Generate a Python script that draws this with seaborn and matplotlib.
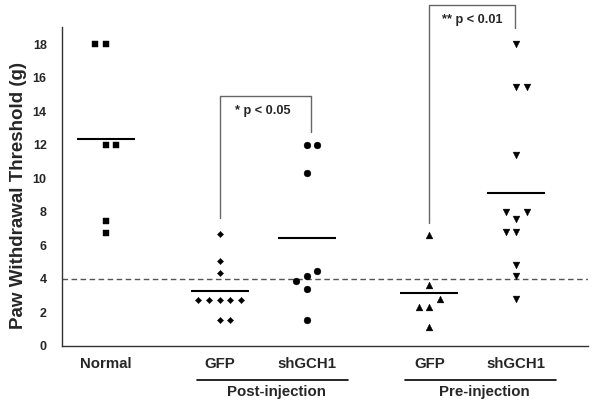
import numpy as np
import pandas as pd
import matplotlib
matplotlib.use("Agg")
import matplotlib.pyplot as plt
import seaborn as sns

# ---- data ----
tick_labels = ["Normal", "GFP", "shGCH1", "GFP", "shGCH1"]
normal_vals = [18, 18, 12, 12, 7.45, 6.75]
post_gfp_vals = [6.7, 5.1, 4.35, 2.75, 2.75, 2.75, 2.75, 2.75, 1.55, 1.55]
post_sh_vals = [12, 12, 10.3, 4.5, 4.15, 3.85, 3.4, 1.55]
pre_gfp_vals = [6.65, 3.65, 2.8, 2.3, 2.3, 1.15]
pre_sh_vals = [18, 15.45, 15.45, 11.4, 8.0, 8.0, 7.6, 6.8, 6.8, 4.85, 4.2, 2.8]
threshold = 4.02
group_names = ["Post-injection", "Pre-injection"]
p_texts = ["* p < 0.05", "** p < 0.01"]

# ---- layout (positions / side-by-side slots for tied points) ----
xpos = [0.0, 1.31, 2.31, 3.72, 4.72]
normal_slot = [-1, 0, 0, 1, 0, 0]
post_gfp_slot = [0, 0, 0, -2, -1, 0, 1, 2, 0, 1]
post_sh_slot = [0, 1, 0, 1, 0, -1, 0, 0]
pre_gfp_slot = [0, 0, 1, -1, 0, 0]
pre_sh_slot = [0, 0, 1, 0, -1, 1, 0, -1, 0, 0, 0, 0]
slot_w = 0.124

sns.set_style("white")
plt.rcParams["font.family"] = ["Liberation Sans", "DejaVu Sans"]
plt.rcParams["font.weight"] = "bold"

fig = plt.figure(figsize=(6, 4.09), dpi=100)
ax = fig.add_axes([62 / 600, 1 - 346 / 409, 526 / 600, 342 / 409])

series = [
    (normal_vals, normal_slot, "s", 22),
    (post_gfp_vals, post_gfp_slot, "D", 10),
    (post_sh_vals, post_sh_slot, "o", 24),
    (pre_gfp_vals, pre_gfp_slot, "^", 24),
    (pre_sh_vals, pre_sh_slot, "v", 24),
]

for i, (vals, slots, mk, sz) in enumerate(series):
    df = pd.DataFrame({
        "x": xpos[i] + np.array(slots) * slot_w,
        "y": vals,
    })
    sns.scatterplot(data=df, x="x", y="y", marker=mk, s=sz, color="black",
                    edgecolor="black", linewidth=0.3, ax=ax, legend=False,
                    zorder=3)
    m = np.mean(vals)
    ax.plot([xpos[i] - 0.333, xpos[i] + 0.333], [m, m], color="black",
            lw=1.5, solid_capstyle="butt", zorder=2)

ax.set_xlim(-0.502, 5.544)
ax.set_ylim(0, 20.4)

# threshold dashed line
ax.axhline(threshold, color="#555555", lw=1.0, ls=(0, (4, 2.5)), zorder=1)

# spines / ticks
for s in ["top", "right"]:
    ax.spines[s].set_visible(False)
for s in ["left", "bottom"]:
    ax.spines[s].set_color("#333333")
    ax.spines[s].set_linewidth(1.0)
ax.spines["left"].set_bounds(0, 19)

ax.set_yticks(np.arange(0, 19, 2))
ax.set_yticks(np.arange(1, 18, 2), minor=True)
ax.set_yticklabels([str(v) for v in range(0, 19, 2)])
ax.set_xticks(xpos)
ax.set_xticklabels(tick_labels)
ax.tick_params(axis="y", which="both", direction="in", length=4, width=0.9,
               color="#333333", pad=11, labelsize=9)
ax.tick_params(axis="x", which="both", direction="in", length=4, width=0.9,
               color="#333333", pad=8, labelsize=10.8)
for lab in ax.get_xticklabels() + ax.get_yticklabels():
    lab.set_fontweight("bold")

ax.set_xlabel("")
ax.set_ylabel("Paw Withdrawal Threshold (g)", fontsize=13.5,
              fontweight="bold")
ax.yaxis.set_label_coords(-0.066, 0.44)

# group underlines and labels
ul_y = -2.03
txt_y = -2.74
for (x0, x1, xc), name in zip([(1.05, 2.785, 1.96), (3.44, 5.18, 4.35)],
                              group_names):
    ax.plot([x0, x1], [ul_y, ul_y], color="black", lw=1.2, clip_on=False)
    ax.text(xc, txt_y, name, ha="center", va="center", fontsize=10.8,
            fontweight="bold")

# significance brackets
br_col = "#666666"
ax.plot([xpos[1], xpos[1], 2.36, 2.36], [7.64, 14.93, 14.93, 12.79],
        color=br_col, lw=1.0, clip_on=False)
ax.text(1.80, 14.04, p_texts[0], ha="center", va="center", fontsize=9.2,
        fontweight="bold")
ax.plot([xpos[3], xpos[3], 4.70, 4.70], [7.34, 20.35, 20.35, 18.97],
        color=br_col, lw=1.0, clip_on=False)
ax.text(4.21, 19.45, p_texts[1], ha="center", va="center", fontsize=9.2,
        fontweight="bold")

fig.savefig("out.png", dpi=100)
